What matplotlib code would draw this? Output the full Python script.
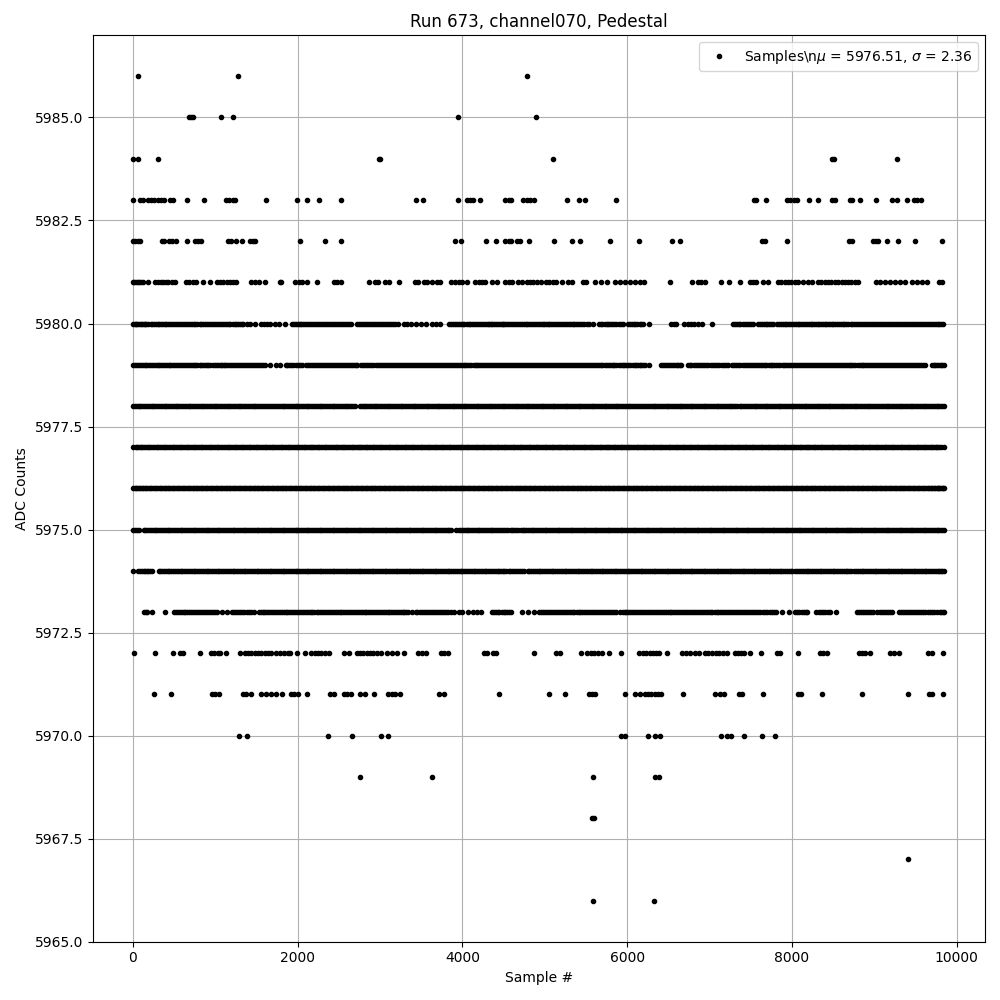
import matplotlib
matplotlib.use("Agg")
import matplotlib.pyplot as plt

title = "Run 673, channel070, Pedestal"
xlabel = "Sample #"
ylabel = "ADC Counts"
legend_label = "Samples\\n$\\mu$ = 5976.51, $\\sigma$ = 2.36"

s5986 = [65, 1279, 4787]
s5985 = [686, 712, 735, 1072, 1210, 3946, 4896]
s5984 = [5, 65, 305, 2985, 3005, 5097, 8490, 8510, 9276]
s5983 = [5, 90, 120, 180, 220, 260, 300, 340, 380, 450, 490, 658, 865, 1133, 1173, 1214, 1246, 1620, 1998, 2120, 2265, 2521, 3435, 3524, 3946, 4056, 4097, 4130, 4214, 4523, 4563, 4592, 4738, 4780, 4819, 4868, 5267, 5421, 5490, 5862, 7535, 7567, 7685, 7936, 7980, 8021, 8065, 8207, 8317, 8491, 8527, 8701, 8734, 8827, 9021, 9208, 9276, 9398, 9479, 9519, 9560]
s5982 = [5, 30, 60, 90, 350, 380, 440, 480, 525, 658, 750, 790, 830, 1160, 1195, 1255, 1328, 1425, 1458, 1486, 2034, 2338, 2521, 3910, 3983, 4287, 4413, 4523, 4560, 4592, 4665, 4705, 4803, 5109, 5328, 5425, 5789, 6142, 6543, 6640, 7640, 7673, 7936, 8693, 8734, 8985, 9025, 9045, 9155, 9289, 9495, 9823]
s5981 = [5, 20, 40, 60, 80, 100, 120, 190, 270, 300, 340, 370, 400, 430, 470, 515, 645, 686, 727, 767, 853, 938, 1027, 1060, 1100, 1140, 1180, 1220, 1255, 1433, 1478, 1527, 1608, 1782, 1803, 1973, 2014, 2054, 2120, 2241, 2440, 2480, 2521, 2862, 2939, 2980, 3065, 3110, 3228, 3427, 3467, 3528, 3569, 3630, 3690, 3731, 3861, 3914, 3955, 3995, 4056, 4157, 4198, 4239, 4279, 4360, 4421, 4523, 4563, 4604, 4673, 4726, 4787, 4820, 4860, 4900, 4950, 5015, 5055, 5095, 5135, 5206, 5279, 5332, 5461, 5502, 5615, 5680, 5753, 5858, 5907, 5968, 6028, 6089, 6150, 6207, 6518, 6786, 6859, 6899, 6940, 7138, 7231, 7373, 7486, 7527, 7567, 7648, 7713, 7831, 7871, 7912, 7952, 7993, 8033, 8074, 8134, 8195, 8248, 8317, 8357, 8398, 8438, 8479, 8520, 8560, 8601, 8641, 8682, 8722, 8763, 8800, 9025, 9066, 9127, 9187, 9248, 9309, 9370, 9451, 9511, 9572, 9633, 9787, 9820]
s5980 = [5, 25, 55, 95, 130, 165, 215, 260, 300, 345, 385, 430, 480, 525, 575, 620, 665, 715, 760, 810, 855, 905, 950, 1000, 1045, 1090, 1140, 1185, 1235, 1280, 1320, 1340, 1380, 1428, 1477, 1558, 1590, 1630, 1671, 1720, 1773, 1846, 1935, 1975, 2025, 2070, 2120, 2165, 2215, 2260, 2310, 2355, 2405, 2450, 2500, 2550, 2600, 2645, 2726, 2770, 2820, 2865, 2915, 2960, 3010, 3060, 3105, 3160, 3213, 3290, 3330, 3371, 3432, 3493, 3554, 3635, 3675, 3724, 3838, 3885, 3930, 3980, 4025, 4075, 4120, 4170, 4215, 4265, 4310, 4345, 4385, 4430, 4475, 4510, 4555, 4600, 4650, 4700, 4745, 4790, 4835, 4885, 4930, 4975, 5014, 5055, 5100, 5150, 5200, 5245, 5295, 5340, 5380, 5425, 5480, 5540, 5582, 5655, 5700, 5750, 5795, 5845, 5895, 5947, 6008, 6055, 6100, 6150, 6190, 6264, 6535, 6572, 6596, 6694, 6734, 6775, 6816, 6856, 6905, 7026, 7282, 7330, 7375, 7425, 7475, 7525, 7586, 7630, 7680, 7725, 7769, 7822, 7865, 7910, 7955, 8000, 8045, 8090, 8135, 8180, 8225, 8270, 8310, 8350, 8395, 8440, 8480, 8525, 8570, 8615, 8660, 8710, 8755, 8805, 8850, 8900, 8950, 8995, 9045, 9095, 9140, 9190, 9240, 9285, 9335, 9385, 9430, 9480, 9530, 9575, 9625, 9670, 9720, 9770, 9810, 9838]
s5980_b = [40, 75, 112, 147, 190, 237, 280, 322, 365, 407, 455, 502, 550, 597, 642, 690, 737, 785, 832, 880, 927, 975, 1022, 1067, 1115, 1162, 1210, 1257, 1300, 1955, 2000, 2047, 2095, 2142, 2190, 2237, 2285, 2332, 2380, 2427, 2475, 2525, 2575, 2622, 2748, 2795, 2842, 2890, 2937, 2985, 3035, 3082, 3132, 3187, 3860, 3907, 3955, 4002, 4050, 4097, 4145, 4192, 4240, 4287, 4327, 4365, 4407, 4452, 4492, 4532, 4577, 4625, 4675, 4722, 4767, 4812, 4860, 4907, 4952, 4995, 5035, 5077, 5125, 5175, 5222, 5270, 5317, 5360, 5402, 5452, 5510, 5677, 5725, 5772, 5820, 5870, 5921, 6031, 6077, 6125, 6170, 7306, 7352, 7400, 7450, 7500, 7608, 7655, 7702, 7747, 7843, 7887, 7932, 7977, 8022, 8067, 8112, 8157, 8202, 8247, 8290, 8330, 8372, 8417, 8460, 8502, 8547, 8592, 8637, 8685, 8732, 8780, 8827, 8875, 8925, 8972, 9020, 9070, 9117, 9165, 9215, 9262, 9310, 9360, 9407, 9455, 9505, 9552, 9600, 9647, 9695, 9745, 9790]
s5979 = [5, 30, 75, 120, 165, 210, 255, 300, 345, 390, 435, 480, 525, 570, 620, 665, 715, 760, 810, 855, 900, 933, 974, 1020, 1065, 1103, 1124, 1170, 1215, 1265, 1310, 1360, 1410, 1460, 1510, 1560, 1610, 1671, 1732, 1785, 1854, 1900, 1950, 2005, 2057, 2097, 2145, 2195, 2245, 2295, 2340, 2390, 2440, 2490, 2540, 2590, 2640, 2685, 2726, 2767, 2815, 2865, 2909, 2950, 3000, 3050, 3100, 3145, 3195, 3245, 3295, 3340, 3390, 3440, 3490, 3535, 3585, 3630, 3680, 3725, 3775, 3825, 3870, 3920, 3965, 4015, 4060, 4110, 4160, 4205, 4255, 4300, 4350, 4400, 4445, 4495, 4540, 4590, 4640, 4685, 4735, 4785, 4830, 4880, 4930, 4975, 5025, 5075, 5120, 5170, 5220, 5265, 5315, 5365, 5410, 5460, 5510, 5555, 5605, 5655, 5700, 5750, 5800, 5845, 5895, 5945, 5990, 6040, 6090, 6135, 6170, 6211, 6264, 6414, 6460, 6510, 6560, 6600, 6637, 6653, 6734, 6780, 6830, 6880, 6930, 6985, 7038, 7067, 7120, 7170, 7221, 7270, 7320, 7363, 7404, 7450, 7500, 7550, 7595, 7645, 7690, 7740, 7785, 7835, 7885, 7930, 7980, 8025, 8075, 8125, 8170, 8220, 8265, 8315, 8365, 8410, 8460, 8505, 8555, 8605, 8650, 8700, 8745, 8795, 8845, 8890, 8940, 8985, 9035, 9085, 9130, 9180, 9225, 9275, 9325, 9370, 9420, 9465, 9515, 9565, 9615, 9696, 9740, 9785, 9825, 9840]
s5979_b = [52, 97, 142, 187, 232, 277, 322, 367, 412, 457, 502, 547, 595, 642, 690, 737, 785, 832, 877, 917, 997, 1042, 1085, 1147, 1192, 1240, 1287, 1335, 1385, 1435, 1485, 1535, 1585, 1877, 1925, 1977, 2031, 2121, 2170, 2220, 2270, 2317, 2365, 2415, 2465, 2515, 2565, 2615, 2662, 2706, 2791, 2840, 2887, 2975, 3025, 3075, 3122, 3170, 3220, 3270, 3317, 3365, 3415, 3465, 3512, 3560, 3607, 3655, 3702, 3750, 3800, 3847, 3895, 3942, 3990, 4037, 4085, 4135, 4182, 4230, 4277, 4325, 4375, 4422, 4470, 4517, 4565, 4615, 4662, 4710, 4760, 4807, 4855, 4905, 4952, 5000, 5050, 5097, 5145, 5195, 5242, 5290, 5340, 5387, 5435, 5485, 5532, 5580, 5630, 5677, 5725, 5775, 5822, 5870, 5920, 5967, 6015, 6065, 6112, 6152, 6190, 6437, 6485, 6535, 6580, 6619, 6757, 6805, 6855, 6905, 6957, 7012, 7093, 7145, 7195, 7295, 7341, 7427, 7475, 7525, 7572, 7620, 7667, 7715, 7762, 7810, 7860, 7907, 7955, 8002, 8050, 8100, 8147, 8195, 8242, 8290, 8340, 8387, 8435, 8482, 8530, 8580, 8627, 8675, 8722, 8770, 8820, 8867, 8915, 8962, 9010, 9060, 9107, 9155, 9202, 9250, 9300, 9347, 9395, 9442, 9490, 9540, 9590, 9718, 9762, 9805]
s5978 = [5, 30, 70, 115, 160, 205, 250, 295, 340, 385, 430, 475, 520, 565, 610, 655, 700, 745, 790, 835, 880, 925, 970, 1015, 1060, 1105, 1150, 1195, 1240, 1285, 1330, 1375, 1420, 1465, 1510, 1555, 1600, 1650, 1705, 1750, 1795, 1840, 1885, 1930, 1975, 2020, 2065, 2110, 2155, 2200, 2245, 2290, 2335, 2380, 2425, 2470, 2515, 2560, 2605, 2650, 2700, 2755, 2800, 2845, 2890, 2935, 2980, 3025, 3070, 3115, 3160, 3205, 3250, 3295, 3340, 3385, 3430, 3475, 3520, 3565, 3610, 3655, 3700, 3745, 3790, 3835, 3880, 3925, 3970, 4015, 4060, 4105, 4150, 4195, 4240, 4285, 4330, 4375, 4420, 4465, 4510, 4555, 4600, 4645, 4690, 4735, 4780, 4825, 4870, 4915, 4960, 5005, 5050, 5095, 5140, 5185, 5230, 5275, 5320, 5365, 5410, 5455, 5500, 5545, 5590, 5635, 5680, 5725, 5770, 5815, 5860, 5905, 5950, 5995, 6040, 6085, 6135, 6185, 6230, 6275, 6320, 6365, 6410, 6455, 6500, 6545, 6590, 6635, 6680, 6725, 6770, 6815, 6860, 6905, 6950, 6995, 7040, 7085, 7130, 7175, 7220, 7265, 7310, 7365, 7410, 7455, 7500, 7545, 7590, 7635, 7680, 7725, 7770, 7815, 7860, 7905, 7950, 7995, 8040, 8085, 8130, 8175, 8220, 8265, 8310, 8355, 8400, 8445, 8490, 8535, 8580, 8625, 8670, 8715, 8760, 8805, 8850, 8895, 8940, 8985, 9030, 9075, 9125, 9170, 9215, 9260, 9305, 9350, 9395, 9440, 9485, 9530, 9575, 9620, 9665, 9710, 9755, 9800, 9840]
s5978_b = [50, 92, 137, 182, 227, 272, 317, 362, 407, 452, 497, 542, 587, 632, 677, 722, 767, 812, 857, 902, 947, 992, 1037, 1082, 1127, 1172, 1217, 1262, 1307, 1352, 1397, 1442, 1487, 1532, 1577, 1625, 1677, 1727, 1772, 1817, 1862, 1907, 1952, 1997, 2042, 2087, 2132, 2177, 2222, 2267, 2312, 2357, 2402, 2447, 2492, 2537, 2582, 2627, 2675, 2777, 2822, 2867, 2912, 2957, 3002, 3047, 3092, 3137, 3182, 3227, 3272, 3317, 3362, 3407, 3452, 3497, 3542, 3587, 3632, 3677, 3722, 3767, 3812, 3857, 3902, 3947, 3992, 4037, 4082, 4127, 4172, 4217, 4262, 4307, 4352, 4397, 4442, 4487, 4532, 4577, 4622, 4667, 4712, 4757, 4802, 4847, 4892, 4937, 4982, 5027, 5072, 5117, 5162, 5207, 5252, 5297, 5342, 5387, 5432, 5477, 5522, 5567, 5612, 5657, 5702, 5747, 5792, 5837, 5882, 5927, 5972, 6017, 6062, 6110, 6160, 6207, 6252, 6297, 6342, 6387, 6432, 6477, 6522, 6567, 6612, 6657, 6702, 6747, 6792, 6837, 6882, 6927, 6972, 7017, 7062, 7107, 7152, 7197, 7242, 7287, 7337, 7387, 7432, 7477, 7522, 7567, 7612, 7657, 7702, 7747, 7792, 7837, 7882, 7927, 7972, 8017, 8062, 8107, 8152, 8197, 8242, 8287, 8332, 8377, 8422, 8467, 8512, 8557, 8602, 8647, 8692, 8737, 8782, 8827, 8872, 8917, 8962, 9007, 9052, 9100, 9147, 9192, 9237, 9282, 9327, 9372, 9417, 9462, 9507, 9552, 9597, 9642, 9687, 9732, 9777, 9820]
s5977 = [5, 35, 75, 115, 160, 200, 245, 290, 330, 375, 415, 460, 505, 545, 590, 630, 675, 720, 760, 805, 845, 890, 935, 975, 1020, 1060, 1105, 1150, 1190, 1235, 1275, 1320, 1365, 1405, 1450, 1490, 1535, 1580, 1620, 1665, 1705, 1750, 1795, 1835, 1880, 1920, 1965, 2010, 2050, 2095, 2135, 2180, 2225, 2265, 2310, 2350, 2395, 2440, 2480, 2525, 2565, 2610, 2655, 2695, 2740, 2780, 2825, 2870, 2910, 2955, 2995, 3040, 3085, 3125, 3170, 3210, 3255, 3300, 3340, 3385, 3425, 3470, 3515, 3555, 3600, 3640, 3685, 3730, 3770, 3815, 3855, 3900, 3945, 3985, 4030, 4070, 4115, 4160, 4200, 4245, 4285, 4330, 4375, 4415, 4460, 4500, 4545, 4590, 4630, 4675, 4715, 4760, 4805, 4845, 4890, 4930, 4975, 5020, 5060, 5105, 5145, 5190, 5235, 5275, 5320, 5360, 5405, 5450, 5490, 5535, 5575, 5620, 5665, 5705, 5750, 5790, 5835, 5880, 5920, 5965, 6005, 6050, 6095, 6135, 6180, 6220, 6265, 6310, 6350, 6395, 6435, 6480, 6525, 6565, 6610, 6650, 6695, 6740, 6780, 6825, 6865, 6910, 6955, 6995, 7040, 7080, 7125, 7170, 7210, 7255, 7295, 7340, 7385, 7425, 7470, 7510, 7555, 7600, 7640, 7685, 7725, 7770, 7815, 7855, 7900, 7940, 7985, 8030, 8070, 8115, 8155, 8200, 8245, 8285, 8330, 8370, 8415, 8460, 8500, 8545, 8585, 8630, 8675, 8715, 8760, 8800, 8845, 8890, 8930, 8975, 9015, 9060, 9105, 9145, 9190, 9230, 9275, 9320, 9360, 9405, 9445, 9490, 9535, 9575, 9620, 9660, 9705, 9745, 9785, 9850]
s5977_b = [55, 95, 137, 180, 222, 267, 310, 352, 395, 437, 482, 525, 567, 610, 652, 697, 740, 782, 825, 867, 912, 955, 997, 1040, 1082, 1127, 1170, 1212, 1255, 1297, 1342, 1385, 1427, 1470, 1512, 1557, 1600, 1642, 1685, 1727, 1772, 1815, 1857, 1900, 1942, 1987, 2030, 2072, 2115, 2157, 2202, 2245, 2287, 2330, 2372, 2417, 2460, 2502, 2545, 2587, 2632, 2675, 2717, 2760, 2802, 2847, 2890, 2932, 2975, 3017, 3062, 3105, 3147, 3190, 3232, 3277, 3320, 3362, 3405, 3447, 3492, 3535, 3577, 3620, 3662, 3707, 3750, 3792, 3835, 3877, 3922, 3965, 4007, 4050, 4092, 4137, 4180, 4222, 4265, 4307, 4352, 4395, 4437, 4480, 4522, 4567, 4610, 4652, 4695, 4737, 4782, 4825, 4867, 4910, 4952, 4997, 5040, 5082, 5125, 5167, 5212, 5255, 5297, 5340, 5382, 5427, 5470, 5512, 5555, 5597, 5642, 5685, 5727, 5770, 5812, 5857, 5900, 5942, 5985, 6027, 6072, 6115, 6157, 6200, 6242, 6287, 6330, 6372, 6415, 6457, 6502, 6545, 6587, 6630, 6672, 6717, 6760, 6802, 6845, 6887, 6932, 6975, 7017, 7060, 7102, 7147, 7190, 7232, 7275, 7317, 7362, 7405, 7447, 7490, 7532, 7577, 7620, 7662, 7705, 7747, 7792, 7835, 7877, 7920, 7962, 8007, 8050, 8092, 8135, 8177, 8222, 8265, 8307, 8350, 8392, 8437, 8480, 8522, 8565, 8607, 8652, 8695, 8737, 8780, 8822, 8867, 8910, 8952, 8995, 9037, 9082, 9125, 9167, 9210, 9252, 9297, 9340, 9382, 9425, 9467, 9512, 9555, 9597, 9640, 9682, 9725, 9765, 9810]
s5976 = [5, 25, 55, 90, 125, 165, 205, 245, 285, 325, 365, 405, 445, 485, 525, 565, 605, 645, 685, 725, 765, 805, 845, 885, 925, 965, 1005, 1045, 1085, 1125, 1165, 1205, 1245, 1285, 1325, 1365, 1405, 1445, 1485, 1525, 1565, 1605, 1645, 1685, 1725, 1765, 1805, 1845, 1885, 1925, 1965, 2005, 2045, 2085, 2125, 2165, 2205, 2245, 2285, 2325, 2365, 2405, 2445, 2485, 2525, 2565, 2605, 2645, 2685, 2725, 2765, 2805, 2845, 2885, 2925, 2965, 3005, 3045, 3085, 3125, 3165, 3205, 3245, 3285, 3325, 3365, 3405, 3445, 3485, 3525, 3565, 3605, 3645, 3685, 3725, 3765, 3805, 3845, 3885, 3925, 3965, 4005, 4045, 4085, 4125, 4165, 4205, 4245, 4285, 4325, 4365, 4405, 4445, 4485, 4525, 4565, 4605, 4645, 4685, 4725, 4765, 4805, 4845, 4885, 4925, 4965, 5005, 5045, 5085, 5125, 5165, 5205, 5245, 5285, 5325, 5365, 5405, 5445, 5485, 5525, 5565, 5605, 5645, 5685, 5725, 5765, 5805, 5845, 5885, 5925, 5965, 6005, 6045, 6085, 6125, 6165, 6205, 6245, 6285, 6325, 6365, 6405, 6445, 6485, 6525, 6565, 6605, 6645, 6685, 6725, 6765, 6805, 6845, 6885, 6925, 6965, 7005, 7045, 7085, 7125, 7165, 7205, 7245, 7285, 7325, 7365, 7405, 7445, 7485, 7525, 7565, 7605, 7645, 7685, 7725, 7765, 7805, 7845, 7885, 7925, 7965, 8005, 8045, 8085, 8125, 8165, 8205, 8245, 8285, 8325, 8365, 8405, 8445, 8485, 8525, 8565, 8605, 8645, 8685, 8725, 8765, 8805, 8845, 8885, 8925, 8965, 9005, 9045, 9085, 9125, 9165, 9205, 9245, 9285, 9325, 9365, 9405, 9445, 9485, 9525, 9565, 9605, 9645, 9685, 9725, 9755, 9785, 9815, 9840]
s5976_b = [40, 72, 107, 145, 185, 225, 265, 305, 345, 385, 425, 465, 505, 545, 585, 625, 665, 705, 745, 785, 825, 865, 905, 945, 985, 1025, 1065, 1105, 1145, 1185, 1225, 1265, 1305, 1345, 1385, 1425, 1465, 1505, 1545, 1585, 1625, 1665, 1705, 1745, 1785, 1825, 1865, 1905, 1945, 1985, 2025, 2065, 2105, 2145, 2185, 2225, 2265, 2305, 2345, 2385, 2425, 2465, 2505, 2545, 2585, 2625, 2665, 2705, 2745, 2785, 2825, 2865, 2905, 2945, 2985, 3025, 3065, 3105, 3145, 3185, 3225, 3265, 3305, 3345, 3385, 3425, 3465, 3505, 3545, 3585, 3625, 3665, 3705, 3745, 3785, 3825, 3865, 3905, 3945, 3985, 4025, 4065, 4105, 4145, 4185, 4225, 4265, 4305, 4345, 4385, 4425, 4465, 4505, 4545, 4585, 4625, 4665, 4705, 4745, 4785, 4825, 4865, 4905, 4945, 4985, 5025, 5065, 5105, 5145, 5185, 5225, 5265, 5305, 5345, 5385, 5425, 5465, 5505, 5545, 5585, 5625, 5665, 5705, 5745, 5785, 5825, 5865, 5905, 5945, 5985, 6025, 6065, 6105, 6145, 6185, 6225, 6265, 6305, 6345, 6385, 6425, 6465, 6505, 6545, 6585, 6625, 6665, 6705, 6745, 6785, 6825, 6865, 6905, 6945, 6985, 7025, 7065, 7105, 7145, 7185, 7225, 7265, 7305, 7345, 7385, 7425, 7465, 7505, 7545, 7585, 7625, 7665, 7705, 7745, 7785, 7825, 7865, 7905, 7945, 7985, 8025, 8065, 8105, 8145, 8185, 8225, 8265, 8305, 8345, 8385, 8425, 8465, 8505, 8545, 8585, 8625, 8665, 8705, 8745, 8785, 8825, 8865, 8905, 8945, 8985, 9025, 9065, 9105, 9145, 9185, 9225, 9265, 9305, 9345, 9385, 9425, 9465, 9505, 9545, 9585, 9625, 9665, 9705, 9740, 9770, 9800, 9828]
s5975 = [8, 45, 70, 130, 175, 220, 265, 310, 355, 400, 445, 490, 535, 580, 625, 670, 715, 760, 805, 850, 895, 940, 985, 1030, 1075, 1120, 1165, 1210, 1255, 1300, 1345, 1390, 1435, 1480, 1525, 1570, 1615, 1660, 1705, 1750, 1795, 1840, 1885, 1930, 1975, 2020, 2065, 2110, 2155, 2200, 2245, 2290, 2335, 2380, 2425, 2470, 2515, 2560, 2605, 2650, 2695, 2740, 2785, 2830, 2875, 2920, 2965, 3010, 3055, 3100, 3145, 3190, 3235, 3280, 3325, 3370, 3415, 3460, 3505, 3550, 3595, 3640, 3685, 3730, 3775, 3820, 3865, 3919, 3960, 4005, 4050, 4095, 4140, 4185, 4230, 4275, 4320, 4365, 4410, 4455, 4500, 4556, 4588, 4630, 4675, 4710, 4750, 4795, 4840, 4885, 4930, 4975, 5020, 5065, 5110, 5155, 5200, 5245, 5290, 5335, 5380, 5425, 5470, 5515, 5560, 5605, 5650, 5695, 5740, 5785, 5830, 5875, 5920, 5965, 6010, 6055, 6100, 6145, 6190, 6235, 6280, 6325, 6370, 6415, 6460, 6505, 6550, 6595, 6640, 6685, 6730, 6775, 6820, 6865, 6910, 6955, 7000, 7045, 7090, 7135, 7180, 7225, 7270, 7315, 7360, 7405, 7450, 7495, 7540, 7585, 7630, 7675, 7720, 7765, 7810, 7855, 7900, 7945, 7990, 8035, 8080, 8125, 8170, 8215, 8260, 8305, 8350, 8395, 8440, 8485, 8530, 8575, 8620, 8665, 8702, 8722, 8765, 8810, 8855, 8900, 8945, 8990, 9035, 9080, 9125, 9170, 9215, 9260, 9305, 9350, 9395, 9440, 9485, 9530, 9575, 9620, 9665, 9710, 9755, 9800, 9840]
s5975_b = [27, 152, 197, 242, 287, 332, 377, 422, 467, 512, 557, 602, 647, 692, 737, 782, 827, 872, 917, 962, 1007, 1052, 1097, 1142, 1187, 1232, 1277, 1322, 1367, 1412, 1457, 1502, 1547, 1592, 1637, 1682, 1727, 1772, 1817, 1862, 1907, 1952, 1997, 2042, 2087, 2132, 2177, 2222, 2267, 2312, 2357, 2402, 2447, 2492, 2537, 2582, 2627, 2672, 2717, 2762, 2807, 2852, 2897, 2942, 2987, 3032, 3077, 3122, 3167, 3212, 3257, 3302, 3347, 3392, 3437, 3482, 3527, 3572, 3617, 3662, 3707, 3752, 3797, 3842, 3982, 4027, 4072, 4117, 4162, 4207, 4252, 4297, 4342, 4387, 4432, 4477, 4525, 4608, 4652, 4730, 4772, 4817, 4862, 4907, 4952, 4997, 5042, 5087, 5132, 5177, 5222, 5267, 5312, 5357, 5402, 5447, 5492, 5537, 5582, 5627, 5672, 5717, 5762, 5807, 5852, 5897, 5942, 5987, 6032, 6077, 6122, 6167, 6212, 6257, 6302, 6347, 6392, 6437, 6482, 6527, 6572, 6617, 6662, 6707, 6752, 6797, 6842, 6887, 6932, 6977, 7022, 7067, 7112, 7157, 7202, 7247, 7292, 7337, 7382, 7427, 7472, 7517, 7562, 7607, 7652, 7697, 7742, 7787, 7832, 7877, 7922, 7967, 8012, 8057, 8102, 8147, 8192, 8237, 8282, 8327, 8372, 8417, 8462, 8507, 8552, 8597, 8642, 8684, 8743, 8787, 8832, 8877, 8922, 8967, 9012, 9057, 9102, 9147, 9192, 9237, 9282, 9327, 9372, 9417, 9462, 9507, 9552, 9597, 9642, 9687, 9732, 9777, 9820]
s5974 = [5, 69, 110, 150, 190, 231, 312, 355, 400, 445, 490, 535, 580, 625, 670, 715, 760, 805, 850, 895, 940, 985, 1030, 1075, 1120, 1165, 1210, 1255, 1300, 1345, 1390, 1435, 1480, 1525, 1570, 1615, 1660, 1705, 1750, 1795, 1840, 1885, 1930, 1975, 2020, 2065, 2110, 2155, 2200, 2245, 2290, 2335, 2380, 2425, 2470, 2515, 2560, 2605, 2650, 2695, 2740, 2785, 2830, 2875, 2920, 2965, 3010, 3055, 3100, 3145, 3190, 3235, 3280, 3325, 3370, 3415, 3460, 3505, 3550, 3595, 3640, 3685, 3730, 3775, 3820, 3865, 3910, 3955, 4000, 4045, 4090, 4135, 4180, 4225, 4270, 4315, 4360, 4405, 4450, 4495, 4527, 4560, 4605, 4650, 4700, 4750, 4791, 4835, 4880, 4925, 4970, 5015, 5060, 5105, 5150, 5195, 5240, 5285, 5330, 5375, 5420, 5465, 5510, 5555, 5600, 5645, 5690, 5735, 5780, 5825, 5870, 5915, 5960, 6005, 6050, 6095, 6140, 6185, 6230, 6275, 6320, 6365, 6410, 6455, 6500, 6545, 6590, 6635, 6680, 6725, 6770, 6815, 6860, 6905, 6950, 6995, 7040, 7085, 7130, 7175, 7220, 7265, 7310, 7355, 7400, 7445, 7490, 7535, 7580, 7625, 7670, 7715, 7760, 7805, 7850, 7895, 7940, 7985, 8032, 8065, 8110, 8155, 8200, 8245, 8290, 8335, 8380, 8425, 8470, 8515, 8560, 8605, 8650, 8695, 8722, 8755, 8800, 8845, 8890, 8935, 8980, 9025, 9070, 9115, 9160, 9205, 9250, 9295, 9340, 9385, 9430, 9475, 9520, 9565, 9610, 9655, 9700, 9745, 9790, 9820, 9840]
s5974_b = [90, 130, 170, 210, 333, 377, 422, 467, 512, 557, 602, 647, 692, 737, 782, 827, 872, 917, 962, 1007, 1052, 1097, 1142, 1187, 1232, 1277, 1322, 1367, 1412, 1457, 1502, 1547, 1592, 1637, 1682, 1727, 1772, 1817, 1862, 1907, 1952, 1997, 2042, 2087, 2132, 2177, 2222, 2267, 2312, 2357, 2402, 2447, 2492, 2537, 2582, 2627, 2672, 2717, 2762, 2807, 2852, 2897, 2942, 2987, 3032, 3077, 3122, 3167, 3212, 3257, 3302, 3347, 3392, 3437, 3482, 3527, 3572, 3617, 3662, 3707, 3752, 3797, 3842, 3887, 3932, 3977, 4022, 4067, 4112, 4157, 4202, 4247, 4292, 4337, 4382, 4427, 4472, 4510, 4582, 4627, 4675, 4725, 4813, 4857, 4902, 4947, 4992, 5037, 5082, 5127, 5172, 5217, 5262, 5307, 5352, 5397, 5442, 5487, 5532, 5577, 5622, 5667, 5712, 5757, 5802, 5847, 5892, 5937, 5982, 6027, 6072, 6117, 6162, 6207, 6252, 6297, 6342, 6387, 6432, 6477, 6522, 6567, 6612, 6657, 6702, 6747, 6792, 6837, 6882, 6927, 6972, 7017, 7062, 7107, 7152, 7197, 7242, 7287, 7332, 7377, 7422, 7467, 7512, 7557, 7602, 7647, 7692, 7737, 7782, 7827, 7872, 7917, 7962, 8005, 8087, 8132, 8177, 8222, 8267, 8312, 8357, 8402, 8447, 8492, 8537, 8582, 8627, 8672, 8777, 8822, 8867, 8912, 8957, 9002, 9047, 9092, 9137, 9182, 9227, 9272, 9317, 9362, 9407, 9452, 9497, 9542, 9587, 9632, 9677, 9722, 9767, 9805]
s5973 = [138, 178, 231, 394, 503, 550, 600, 637, 680, 730, 780, 830, 880, 930, 970, 1025, 1083, 1144, 1205, 1255, 1305, 1355, 1405, 1469, 1530, 1575, 1620, 1670, 1715, 1760, 1810, 1855, 1900, 1950, 1995, 2040, 2090, 2135, 2180, 2230, 2275, 2320, 2370, 2415, 2460, 2510, 2555, 2600, 2650, 2695, 2740, 2790, 2835, 2880, 2930, 2975, 3020, 3070, 3115, 3160, 3210, 3255, 3294, 3335, 3391, 3432, 3480, 3530, 3580, 3630, 3680, 3730, 3780, 3830, 3899, 3960, 4000, 4073, 4130, 4183, 4223, 4357, 4405, 4450, 4500, 4545, 4588, 4722, 4791, 4864, 4933, 4980, 5030, 5075, 5125, 5170, 5220, 5265, 5315, 5360, 5410, 5455, 5505, 5550, 5600, 5645, 5695, 5740, 5790, 5835, 5907, 5947, 5990, 6040, 6085, 6135, 6180, 6230, 6275, 6325, 6370, 6420, 6465, 6515, 6560, 6610, 6655, 6705, 6750, 6800, 6845, 6895, 6940, 6990, 7035, 7085, 7130, 7180, 7225, 7275, 7320, 7370, 7415, 7465, 7510, 7560, 7606, 7647, 7700, 7755, 7809, 7878, 7968, 8040, 8090, 8145, 8187, 8296, 8350, 8405, 8458, 8536, 8791, 8840, 8890, 8940, 8985, 9026, 9067, 9115, 9165, 9209, 9298, 9345, 9395, 9445, 9495, 9545, 9595, 9645, 9695, 9757, 9797, 9830, 9840]
s5973_b = [155, 527, 575, 620, 658, 705, 755, 805, 855, 905, 950, 1000, 1230, 1280, 1330, 1380, 1437, 1552, 1597, 1645, 1692, 1737, 1785, 1832, 1877, 1925, 1972, 2017, 2065, 2112, 2157, 2205, 2252, 2297, 2345, 2392, 2437, 2485, 2532, 2577, 2625, 2672, 2717, 2765, 2812, 2857, 2905, 2952, 2997, 3045, 3092, 3137, 3185, 3232, 3275, 3315, 3455, 3505, 3555, 3605, 3655, 3705, 3755, 3805, 3865, 4380, 4427, 4475, 4522, 4566, 4957, 5005, 5052, 5100, 5147, 5195, 5242, 5290, 5337, 5385, 5432, 5480, 5527, 5575, 5622, 5670, 5717, 5765, 5812, 5870, 5968, 6015, 6062, 6110, 6157, 6205, 6252, 6300, 6347, 6395, 6442, 6490, 6537, 6585, 6632, 6680, 6727, 6775, 6822, 6870, 6917, 6965, 7012, 7060, 7107, 7155, 7202, 7250, 7297, 7345, 7392, 7440, 7487, 7535, 7583, 7673, 7727, 7782, 8065, 8117, 8166, 8323, 8377, 8431, 8815, 8865, 8915, 8962, 9091, 9140, 9187, 9321, 9370, 9420, 9470, 9520, 9570, 9620, 9670, 9726, 9813]
s5972 = [12, 268, 487, 577, 613, 816, 950, 990, 1031, 1060, 1133, 1295, 1356, 1397, 1437, 1478, 1518, 1559, 1600, 1640, 1681, 1734, 1782, 1835, 1884, 1912, 1989, 2091, 2168, 2209, 2249, 2290, 2330, 2383, 2562, 2627, 2716, 2757, 2797, 2838, 2878, 2911, 2968, 3008, 3082, 3142, 3203, 3293, 3467, 3508, 3557, 3739, 3780, 3820, 4259, 4300, 4373, 4405, 4866, 5137, 5186, 5437, 5510, 5563, 5603, 5644, 5696, 5777, 5927, 6138, 6190, 6231, 6271, 6312, 6352, 6381, 6482, 6668, 6717, 6757, 6826, 6867, 6940, 6980, 7033, 7073, 7114, 7162, 7215, 7304, 7345, 7385, 7418, 7490, 7628, 7818, 7859, 8074, 8337, 8377, 8430, 8815, 8855, 8892, 8952, 9187, 9240, 9293, 9653, 9694, 9835]
s5971 = [256, 463, 962, 1003, 1043, 1336, 1376, 1437, 1559, 1620, 1681, 1734, 1815, 1916, 1957, 2006, 2119, 2399, 2440, 2562, 2602, 2643, 2757, 2818, 2923, 3094, 3142, 3183, 3244, 3715, 3772, 4446, 5048, 5243, 5542, 5575, 5611, 5972, 6093, 6158, 6211, 6251, 6292, 6332, 6373, 6405, 6676, 7065, 7130, 7170, 7353, 7393, 7648, 8078, 8110, 8365, 8851, 9410, 9661, 9694, 9835]
s5970 = [1291, 1389, 2363, 2655, 3008, 3094, 5927, 5968, 6251, 6336, 6401, 7138, 7211, 7260, 7418, 7636, 7794]
s5969 = [2753, 3630, 5583, 6336, 6385]
s5968 = [5575, 5603]
s5967 = [9410]
s5966 = [5583, 6324]

levels = [5986, 5985, 5984, 5983, 5982, 5981, 5980, 5980, 5979, 5979, 5978, 5978,
          5977, 5977, 5976, 5976, 5975, 5975, 5974, 5974, 5973, 5973,
          5972, 5971, 5970, 5969, 5968, 5967, 5966]
rows = [s5986, s5985, s5984, s5983, s5982, s5981, s5980, s5980_b, s5979, s5979_b, s5978, s5978_b,
        s5977, s5977_b, s5976, s5976_b, s5975, s5975_b, s5974, s5974_b, s5973, s5973_b,
        s5972, s5971, s5970, s5969, s5968, s5967, s5966]

xs, ys = [], []
for level, row in zip(levels, rows):
    xs.extend(row)
    ys.extend([level] * len(row))

fig, ax = plt.subplots(figsize=(10, 10), dpi=100)
ax.plot(xs, ys, "k.", label=legend_label)
ax.set_title(title)
ax.set_xlabel(xlabel)
ax.set_ylabel(ylabel)
ax.grid(True)
ax.legend(loc="upper right")
fig.tight_layout()
fig.subplots_adjust(top=0.965)
fig.savefig("out.png", dpi=100)
